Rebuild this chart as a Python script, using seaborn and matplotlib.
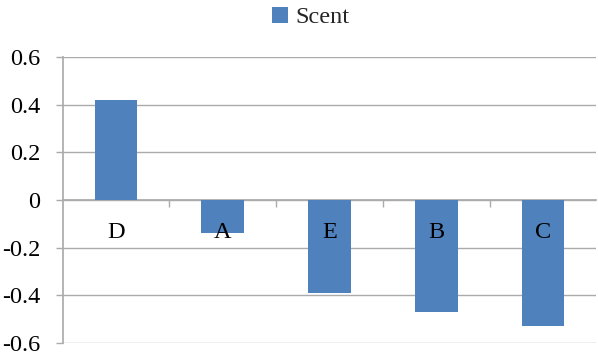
import matplotlib
matplotlib.use("Agg")
import matplotlib.pyplot as plt
import seaborn as sns
import pandas as pd
from matplotlib.ticker import FixedLocator, FuncFormatter, MultipleLocator
from matplotlib.patches import Patch

categories = ["D", "A", "E", "B", "C"]
scent = [0.42, -0.14, -0.39, -0.47, -0.53]
series_name = "Scent"

sns.set_theme(style="white")
plt.rcParams["font.family"] = ["Liberation Serif", "DejaVu Serif"]
plt.rcParams["axes.unicode_minus"] = False

bar_color = "#4F81BD"
grid_color = "#ABABAB"
fs = 17.5

df = pd.DataFrame({"category": categories, "value": scent})

fig = plt.figure(figsize=(5.98, 3.55), dpi=100)
ax = fig.add_axes([0.105, 0.034, 0.892, 0.805])

sns.barplot(data=df, x="category", y="value", color=bar_color,
            width=0.4, saturation=1, linewidth=0, ax=ax)

ax.set_ylim(-0.6, 0.6)
ax.set_xlim(-0.5, len(categories) - 0.5)
ax.yaxis.set_major_locator(MultipleLocator(0.2))
ax.yaxis.set_major_formatter(FuncFormatter(lambda v, _: f"{round(v, 1):g}"))
ax.grid(axis="y", color=grid_color, linewidth=1)
ax.set_axisbelow(True)
ax.set_xlabel("")
ax.set_ylabel("")

# category axis sits on the zero line; its labels are drawn over the bars
for side in ("top", "right"):
    ax.spines[side].set_visible(False)
ax.spines["bottom"].set_position(("data", 0))
ax.spines["bottom"].set_color(grid_color)
ax.spines["left"].set_color(grid_color)
ax.spines["bottom"].set_zorder(0.5)
ax.xaxis.set_zorder(3)

ax.tick_params(axis="x", which="major", length=0, pad=15.5, labelsize=fs,
               labelcolor="black")
ax.xaxis.set_minor_locator(FixedLocator([i + 0.5 for i in range(len(categories) - 1)]))
ax.tick_params(axis="x", which="minor", bottom=True, length=5, width=1,
               color=grid_color, direction="out")
ax.tick_params(axis="y", left=True, length=5, width=1, color=grid_color,
               labelsize=fs, labelcolor="black", pad=11)

handle = Patch(facecolor=bar_color, edgecolor="none")
fig.legend([handle], [series_name], loc="upper center",
           bbox_to_anchor=(0.52, 1.015), borderaxespad=0.1, frameon=False,
           fontsize=fs, handlelength=0.65, handleheight=0.65,
           handletextpad=0.3)

fig.savefig("out.png", dpi=100)
